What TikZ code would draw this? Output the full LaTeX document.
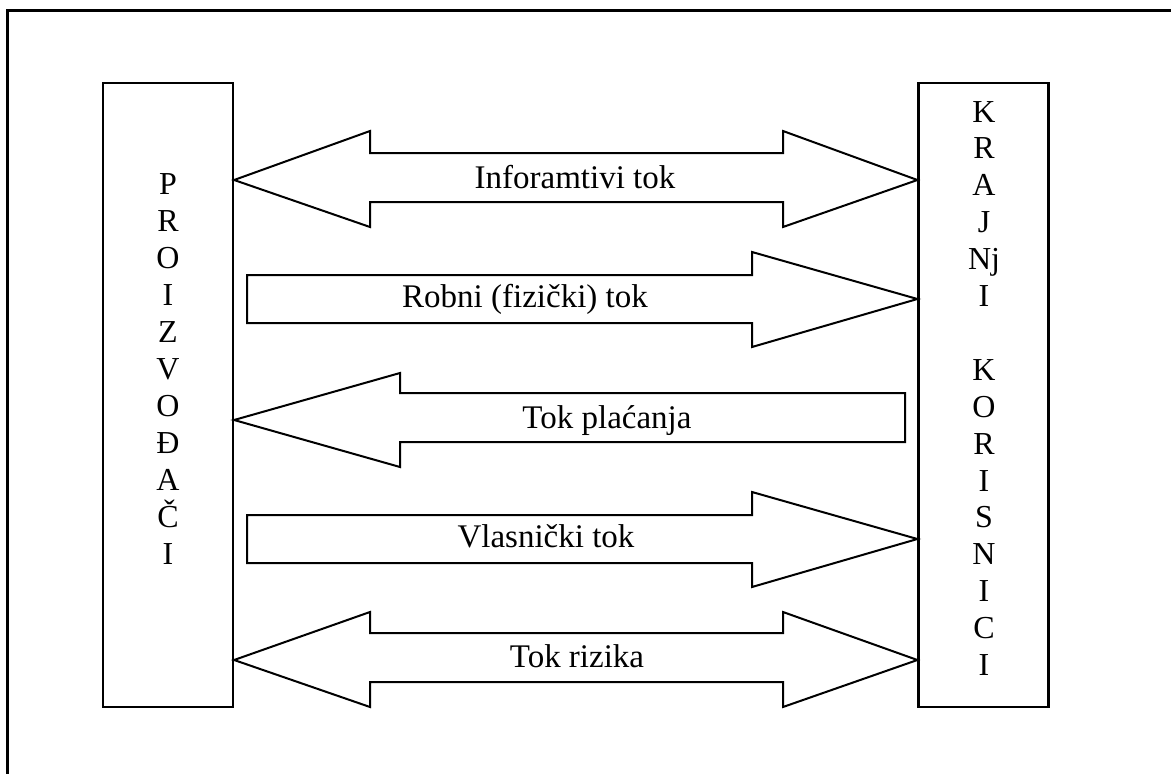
\documentclass[tikz,border=0pt]{standalone}
\usepackage{fontspec}
\setmainfont{Liberation Serif}
\usepackage{tikz}
\usetikzlibrary{positioning}
\tikzset{
    party box/.style={rectangle, draw, line width=2.2pt, inner sep=0pt,
        minimum width=130pt, minimum height=624pt},
    letter/.style={anchor=base, inner sep=0pt, font=\fontsize{32}{37}\selectfont},
    flow/.style={draw, line width=2pt, line join=miter},
    flow label/.style={anchor=base, inner sep=0pt, font=\fontsize{33}{38}\selectfont}
}
\begin{document}
\begin{tikzpicture}[x=1pt, y=-1pt]
	\useasboundingbox (0,0) rectangle (1171,774);
	% frame
	\draw[line width=3pt] (7,774) -- (7,10) -- (1171,10);
	% the two sides
	\node[party box] (proiz) at (168,395) {};
	\node[party box] (kraj) at (983.5,395) {};
	\foreach \ch [count=\i from 0] in {P,R,O,I,Z,V,O,Đ,A,Č,I}
		\node[letter] (p\i) at (168,194+37*\i) {\ch};
	\foreach \ch [count=\i from 0] in {K,R,A,J,Nj,I,{},K,O,R,I,S,N,I,C,I}
		\node[letter] (k\i) at (984,122+36.9*\i) {\ch};
	% flows
	\draw[flow] (proiz.east |- 0,180) -- (370,131) -- (370,153) -- (783,153) -- (783,131)
		-- (kraj.west |- 0,180) -- (783,227) -- (783,202) -- (370,202) -- (370,227) -- cycle;
	\node[flow label] (info) at (575,188) {Inforamtivi tok};
	\draw[flow] (247,275) -- (752,275) -- (752,252) -- (kraj.west |- 0,299)
		-- (752,347) -- (752,323) -- (247,323) -- cycle;
	\node[flow label] (robni) at (525,307) {Robni (fizički) tok};
	\draw[flow] (proiz.east |- 0,420) -- (400,373) -- (400,393) -- (905,393)
		-- (905,442) -- (400,442) -- (400,467) -- cycle;
	\node[flow label] (placanje) at (607,428) {Tok plaćanja};
	\draw[flow] (247,515) -- (752,515) -- (752,492) -- (kraj.west |- 0,539)
		-- (752,587) -- (752,563) -- (247,563) -- cycle;
	\node[flow label] (vlasnik) at (546,547) {Vlasnički tok};
	\draw[flow] (proiz.east |- 0,660) -- (370,612) -- (370,633) -- (783,633) -- (783,612)
		-- (kraj.west |- 0,660) -- (783,707) -- (783,682) -- (370,682) -- (370,707) -- cycle;
	\node[flow label] (rizik) at (577,667) {Tok rizika};
\end{tikzpicture}
\end{document}
